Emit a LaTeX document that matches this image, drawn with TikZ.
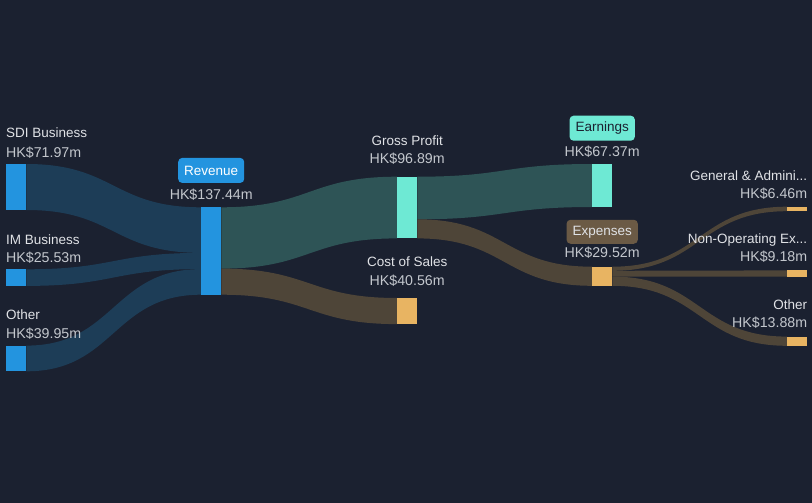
\documentclass[tikz,border=0pt]{standalone}
\usepackage{fontspec}
\setmainfont{Liberation Sans}
\usetikzlibrary{calc,positioning}

\definecolor{bgdark}{HTML}{1B2130}
\definecolor{revblue}{HTML}{2394DF}
\definecolor{flowblue}{HTML}{1D3D57}
\definecolor{flowteal}{HTML}{2E5456}
\definecolor{flowbrown}{HTML}{4E4538}
\definecolor{gpteal}{HTML}{6EE9D4}
\definecolor{costorange}{HTML}{E8B462}
\definecolor{expbrown}{HTML}{6B5A45}
\definecolor{namegray}{HTML}{E0E2E6}
\definecolor{valgray}{HTML}{C3C7CD}

% flow band: colour, from top, from bottom, to top, to bottom
\newcommand{\flow}[5]{\fill[#1] (#2) .. controls +(88,0) and +(-88,0) .. (#4) -- (#5) .. controls +(-88,0) and +(88,0) .. (#3) -- cycle;}

\tikzset{
  bar/.style={rectangle, inner sep=0pt, minimum width=20pt, anchor=north west},
  lblname/.style={text=namegray, inner sep=0pt, font=\fontsize{13.5}{16}\selectfont},
  lblvalue/.style={text=valgray, inner sep=0pt, font=\fontsize{14.2}{16}\selectfont},
  tag/.style={rounded corners=4pt, inner xsep=6pt, minimum height=25pt, anchor=base, font=\fontsize{13.5}{16}\selectfont}
}

\begin{document}
\begin{tikzpicture}[x=1pt,y=-1pt]
\fill[bgdark] (0,0) rectangle (812,503);
\useasboundingbox (0,0) rectangle (812,503);

% bars
\node[bar, fill=revblue, minimum height=45.6pt] (sdi) at (6,164) {};
\node[bar, fill=revblue, minimum height=16.2pt] (im) at (6,269.3) {};
\node[bar, fill=revblue, minimum height=25.3pt] (oth) at (6,345.6) {};
\node[bar, fill=revblue, minimum height=87pt] (rev) at (201,207.3) {};
\node[bar, fill=gpteal, minimum height=61.3pt] (gp) at (397,176.7) {};
\node[bar, fill=costorange, minimum height=25.7pt] (cos) at (397,298) {};
\node[bar, fill=gpteal, minimum height=42.6pt] (earn) at (592,164) {};
\node[bar, fill=costorange, minimum height=18.7pt] (exp) at (592,266.7) {};
\node[bar, fill=costorange, minimum height=4.1pt] (ga) at (787,206.7) {};
\node[bar, fill=costorange, minimum height=5.8pt] (nop) at (787,270.4) {};
\node[bar, fill=costorange, minimum height=8.8pt] (oex) at (787,336.6) {};

% split points
\coordinate (rev1) at ($(rev.north west)+(0,45.6)$);
\coordinate (rev2) at ($(rev.north west)+(0,61.8)$);
\coordinate (rev3) at ($(rev.north east)+(0,61.3)$);
\coordinate (gp1) at ($(gp.north east)+(0,42.6)$);
\coordinate (exp1) at ($(exp.north east)+(0,4.1)$);
\coordinate (exp2) at ($(exp.north east)+(0,9.9)$);

% flows
\flow{flowblue}{sdi.north east}{sdi.south east}{rev.north west}{rev1}
\flow{flowblue}{im.north east}{im.south east}{rev1}{rev2}
\flow{flowblue}{oth.north east}{oth.south east}{rev2}{rev.south west}
\flow{flowteal}{rev.north east}{rev3}{gp.north west}{gp.south west}
\flow{flowbrown}{rev3}{rev.south east}{cos.north west}{cos.south west}
\flow{flowteal}{gp.north east}{gp1}{earn.north west}{earn.south west}
\flow{flowbrown}{gp1}{gp.south east}{exp.north west}{exp.south west}
\flow{flowbrown}{exp.north east}{exp1}{ga.north west}{ga.south west}
\flow{flowbrown}{exp1}{exp2}{nop.north west}{nop.south west}
\flow{flowbrown}{exp2}{exp.south east}{oex.north west}{oex.south west}

% redraw bars on top of flows
\foreach \b/\c in {sdi/revblue,im/revblue,oth/revblue,rev/revblue,gp/gpteal,cos/costorange,earn/gpteal,exp/costorange,ga/costorange,nop/costorange,oex/costorange}
  \fill[\c] (\b.north west) rectangle (\b.south east);

% left labels
\node[lblname, anchor=base west] (sdiname) at ($(sdi.north west)+(0,-26.3)$) {SDI Business};
\node[lblvalue, anchor=base west] (sdival) at ($(sdi.north west)+(0,-6.7)$) {HK\$71.97m};
\node[lblname, anchor=base west] (imname) at ($(im.north west)+(0,-25.3)$) {IM Business};
\node[lblvalue, anchor=base west] (imval) at ($(im.north west)+(0,-6.6)$) {HK\$25.53m};
\node[lblname, anchor=base west] (othname) at ($(oth.north west)+(0,-26)$) {Other};
\node[lblvalue, anchor=base west] (othval) at ($(oth.north west)+(0,-7)$) {HK\$39.95m};

% middle labels
\node[tag, fill=revblue, text=white] (revtag) at ($(rev.north)+(0,-32.3)$) {Revenue};
\node[lblvalue, anchor=base] (revval) at ($(rev.north)+(0,-8.3)$) {HK\$137.44m};
\node[lblname, anchor=base] (gpname) at ($(gp.north)+(0,-31.7)$) {Gross Profit};
\node[lblvalue, anchor=base] (gpval) at ($(gp.north)+(0,-13.4)$) {HK\$96.89m};
\node[lblname, anchor=base] (cosname) at ($(cos.north)+(0,-32)$) {Cost of Sales};
\node[lblvalue, anchor=base] (cosval) at ($(cos.north)+(0,-13)$) {HK\$40.56m};
\node[tag, fill=gpteal, text=bgdark] (earntag) at ($(earn.north)+(0,-32.3)$) {Earnings};
\node[lblvalue, anchor=base] (earnval) at ($(earn.north)+(0,-8)$) {HK\$67.37m};
\node[tag, fill=expbrown, text=namegray, minimum height=24pt] (exptag) at ($(exp.north)+(0,-31.7)$) {Expenses};
\node[lblvalue, anchor=base] (expval) at ($(exp.north)+(0,-9)$) {HK\$29.52m};

% right labels
\node[lblname, anchor=base east] (ganame) at ($(ga.north east)+(0,-26.7)$) {General \& Admini...};
\node[lblvalue, anchor=base east] (gaval) at ($(ga.north east)+(0,-8.4)$) {HK\$6.46m};
\node[lblname, anchor=base east] (nopname) at ($(nop.north east)+(0,-27)$) {Non-Operating Ex...};
\node[lblvalue, anchor=base east] (nopval) at ($(nop.north east)+(0,-8.6)$) {HK\$9.18m};
\node[lblname, anchor=base east] (oexname) at ($(oex.north east)+(0,-27.3)$) {Other};
\node[lblvalue, anchor=base east] (oexval) at ($(oex.north east)+(0,-9.3)$) {HK\$13.88m};
\end{tikzpicture}
\end{document}
